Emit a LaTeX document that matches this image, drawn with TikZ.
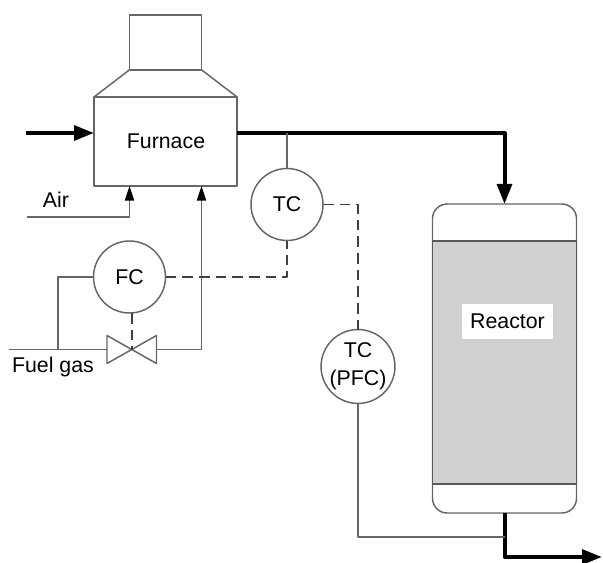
\documentclass[tikz,border=0pt]{standalone}
\usepackage{fontspec}
\setmainfont{Liberation Sans}
\usetikzlibrary{arrows.meta}
\definecolor{pipegray}{HTML}{666666}
\tikzset{
  thin line/.style={draw=pipegray,line width=1.1pt},
  thick line/.style={draw=black,line width=3pt,-{Triangle[length=15pt,width=11pt]}},
  small tip/.style={-{Triangle[length=11pt,width=7pt,color=black]}},
  signal/.style={draw=black!75,line width=1.3pt,dash pattern=on 8pt off 4.5pt},
  ctrl/.style={circle,thin line,inner sep=0pt,outer sep=0pt,minimum size=54pt,align=center},
}
\begin{document}
\begin{tikzpicture}[x=0.75pt,y=-0.75pt,line join=round,font=\fontsize{16}{21}\selectfont]
\useasboundingbox (0,0) rectangle (603,563);
% furnace
\node[thin line,rectangle,outer sep=0pt,minimum width=107.25pt,minimum height=66.75pt] (furnace) at (165.5,141.5) {};
\node[thin line,rectangle,outer sep=0pt,minimum width=54pt,minimum height=41pt] (stack) at (165.5,42.5) {};
\draw[thin line] (furnace.north west)--(stack.south west);
\draw[thin line] (furnace.north east)--(stack.south east);
\node (furnacetext) at (166,141) {Furnace};
% reactor
\node[thin line,rectangle,rounded corners=11pt,outer sep=0pt,minimum width=108pt,minimum height=231.75pt] (reactor) at (504.5,358.5) {};
\node[draw=black!65,line width=1.1pt,fill=black!18,rectangle,outer sep=0pt,minimum width=108pt,minimum height=182.25pt] (bed) at (504.5,362.5) {};
\node[fill=white,inner sep=0pt,minimum width=68pt,minimum height=26pt] (reactortext) at (507.5,321.5) {Reactor};
% controllers
\node[ctrl] (tc) at (287,204.5) {TC};
\node[ctrl] (fc) at (129.5,277) {FC};
\node[ctrl] (pfc) at (358,366.5) {TC\\(PFC)};
% valve
\coordinate (valve) at (132,349.5);
\coordinate (valvein) at (107,349.5);
\coordinate (valveout) at (156.5,349.5);
\draw[thin line] (valvein)--++(0,-14)--++(49.5,28)--++(0,-28)--++(-49.5,28)--cycle;
% free ends
\coordinate (feedin) at (26,133);
\coordinate (airin) at (27,217);
\coordinate (fuelin) at (9,349.5);
\coordinate (fueltap) at (58,349.5);
\coordinate (outtee) at (287,133);
\coordinate (reactorin) at (504.5,133);
\coordinate (reactorout) at (504.5,557);
\coordinate (productout) at (602,557);
\coordinate (samplein) at (504.5,537);
% process lines
\draw[thick line] (feedin)--(furnace.west |- feedin);
\draw[thick line] (furnace.east |- reactorin)--(reactorin)--(reactor.north);
\draw[thick line] (reactor.south)--(reactorout)--(productout);
\draw[thin line,small tip] (airin)-|(furnace.south west -| stack.south west);
\draw[thin line,small tip] (valveout)-|(stack.south east |- furnace.south);
\draw[thin line] (fuelin)--(valvein);
\draw[thin line] (fueltap)|-(fc.west);
\draw[thin line] (outtee)--(tc.north);
\draw[thin line] (pfc.south)|-(samplein);
% signals
\draw[signal] (tc.east)-|(pfc.north);
\draw[signal] (fc.east)-|(tc.south);
\draw[signal] (fc.south -| valve)--(valve);
% labels
\node (airtext) at (56,200) {Air};
\node (fueltext) at (53,367) {Fuel gas};
\end{tikzpicture}
\end{document}
